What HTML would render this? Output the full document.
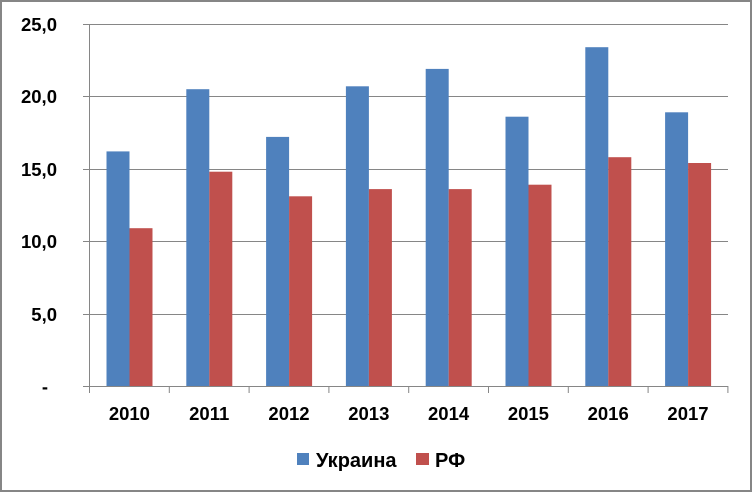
<!DOCTYPE html><html><head><style>body{margin:0;background:#fff}svg{display:block;font-family:"Liberation Sans",sans-serif;font-weight:bold}</style></head><body>
<svg width="752" height="492" xmlns="http://www.w3.org/2000/svg">
<rect x="1" y="1" width="750" height="490" fill="#fff" stroke="#868686" stroke-width="2"/>
<g stroke="#868686" stroke-width="1">
<line x1="83" y1="24.5" x2="728" y2="24.5"/><line x1="83" y1="96.5" x2="728" y2="96.5"/><line x1="83" y1="169.5" x2="728" y2="169.5"/><line x1="83" y1="241.5" x2="728" y2="241.5"/><line x1="83" y1="314.5" x2="728" y2="314.5"/><line x1="83" y1="386.5" x2="728" y2="386.5"/>
<line x1="89.5" y1="24" x2="89.5" y2="393"/>
<line x1="169.3" y1="386" x2="169.3" y2="393"/><line x1="249.1" y1="386" x2="249.1" y2="393"/><line x1="328.9" y1="386" x2="328.9" y2="393"/><line x1="408.7" y1="386" x2="408.7" y2="393"/><line x1="488.5" y1="386" x2="488.5" y2="393"/><line x1="568.3" y1="386" x2="568.3" y2="393"/><line x1="648.1" y1="386" x2="648.1" y2="393"/><line x1="727.9" y1="386" x2="727.9" y2="393"/>
</g>
<g fill="#4f81bd">
<rect x="106.5" y="151.4" width="23" height="234.6"/>
<rect x="186.3" y="89.2" width="23" height="296.8"/>
<rect x="266.1" y="136.9" width="23" height="249.1"/>
<rect x="345.9" y="86.3" width="23" height="299.7"/>
<rect x="425.7" y="68.9" width="23" height="317.1"/>
<rect x="505.5" y="116.7" width="23" height="269.3"/>
<rect x="585.3" y="47.2" width="23" height="338.8"/>
<rect x="665.1" y="112.3" width="23" height="273.7"/>
</g>
<g fill="#c0504d">
<rect x="129.5" y="228.2" width="23" height="157.8"/>
<rect x="209.3" y="171.7" width="23" height="214.3"/>
<rect x="289.1" y="196.3" width="23" height="189.7"/>
<rect x="368.9" y="189.1" width="23" height="196.9"/>
<rect x="448.7" y="189.1" width="23" height="196.9"/>
<rect x="528.5" y="184.7" width="23" height="201.3"/>
<rect x="608.3" y="157.2" width="23" height="228.8"/>
<rect x="688.1" y="163.0" width="23" height="223.0"/>
</g>
<g font-size="18.5" text-anchor="end" fill="#000">
<text x="57" y="31">25,0</text><text x="57" y="103">20,0</text><text x="57" y="176">15,0</text><text x="57" y="248">10,0</text><text x="57" y="321">5,0</text><text x="48" y="393">-</text>
</g>
<g font-size="18.5" text-anchor="middle" fill="#000">
<text x="129.4" y="420">2010</text><text x="209.2" y="420">2011</text><text x="289" y="420">2012</text><text x="368.8" y="420">2013</text><text x="448.6" y="420">2014</text><text x="528.4" y="420">2015</text><text x="608.2" y="420">2016</text><text x="688" y="420">2017</text>
</g>
<rect x="297" y="453" width="12" height="12" fill="#4f81bd"/><text x="316" y="467" font-size="20">Украина</text>
<rect x="416" y="453" width="13" height="12" fill="#c0504d"/><text x="435" y="467" font-size="20">РФ</text>
</svg></body></html>
